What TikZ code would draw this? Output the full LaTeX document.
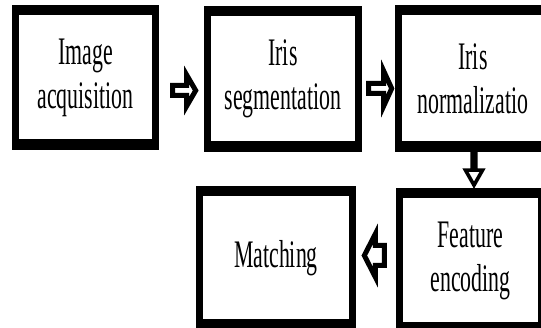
\documentclass[tikz,border=0pt]{standalone}
\usepackage{fontspec}
\newfontfamily\stagefont[FakeStretch=0.56]{Liberation Serif}
\usetikzlibrary{calc}

\tikzset{
	stage/.style={rectangle, fill=black, inner sep=0pt, align=center,
		font=\stagefont\fontsize{39}{44}\selectfont,
		path picture={\fill[white] ([xshift=7pt,yshift=-10.5pt]path picture bounding box.north west)
			rectangle ([xshift=-7pt,yshift=10.5pt]path picture bounding box.south east);}},
	pics/fatarrow/.style n args={5}{code={
		\draw[line width=#5, fill=white, miter limit=20]
			(0,-#2) -- (#1-#4,-#2) -- (#1-#4,-#3) -- (#1,0) -- (#1-#4,#3) -- (#1-#4,#2) -- (0,#2) -- cycle;}}
}

\begin{document}
\begin{tikzpicture}[x=1pt, y=-1pt]
	\useasboundingbox (0,0) rectangle (541,328);
	\clip (0,0) rectangle (541,328);

	% Stages
	\node[stage, minimum width=147pt, minimum height=145pt] (img) at (85.5,77.5) {Image\\acquisition};
	\node[stage, minimum width=158pt, minimum height=146pt] (seg) at (283,79) {Iris\\segmentation};
	\node[stage, minimum width=156pt, minimum height=147pt] (norm) at (473,78.5) {Iris\\normalizatio};
	\node[stage, minimum width=149pt, minimum height=145pt] (feat) at (470.5,260.5) {Feature\\encoding};
	\node[stage, minimum width=160pt, minimum height=144pt] (match) at (276,258) {Matching};

	% Arrows between stages
	\pic at ($(img.east)+(13.5,13)$) {fatarrow={23}{5}{15.5}{9}{5pt}};
	\pic at ($(seg.east)+(6.5,9.5)$) {fatarrow={23}{5}{17.5}{8}{5pt}};
	\pic[rotate=-90] at ($(norm.south)+(1,0)$) {fatarrow={33}{1.8}{8.5}{15}{3.6pt}};
	\pic[rotate=180] at ($(feat.west)+(-11.5,-5)$) {fatarrow={20}{10}{21.5}{11}{5pt}};

\end{tikzpicture}
\end{document}
